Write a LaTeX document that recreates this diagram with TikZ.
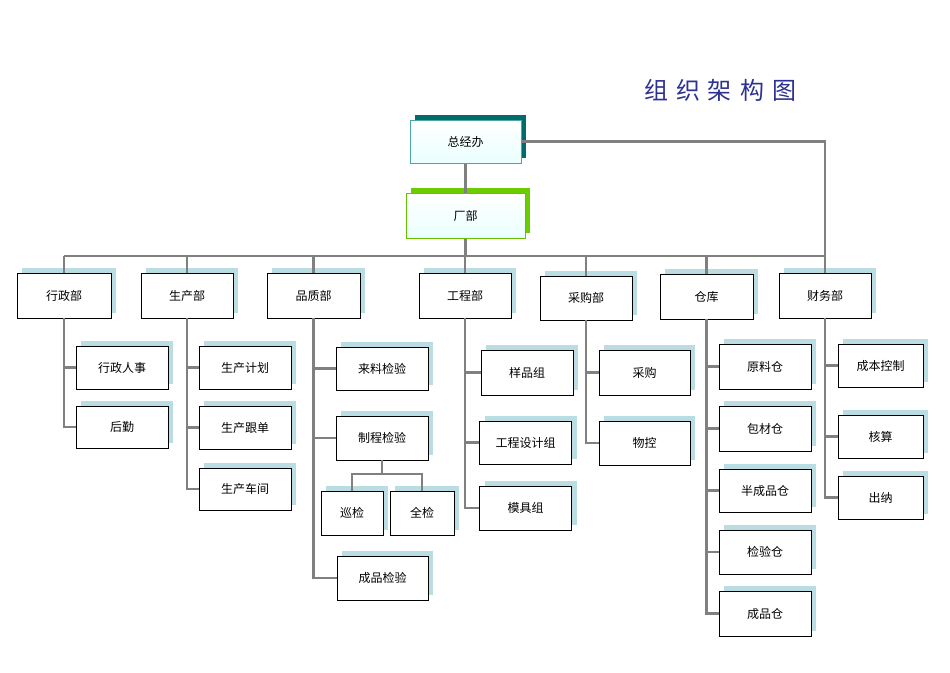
\documentclass[tikz,border=0pt]{standalone}
\usepackage{fontspec}
\setmainfont{Noto Sans CJK SC}
\usetikzlibrary{shadows}
\definecolor{ln}{HTML}{808080}
\definecolor{sh}{HTML}{B9DDE3}
\definecolor{tt}{HTML}{2E3192}
\begin{document}
\begin{tikzpicture}[x=1pt,y=-1pt,
  box/.style={draw=black,line width=0.8pt,fill=white,minimum width=92pt,minimum height=43pt,inner sep=1pt,font=\fontsize{12}{14}\selectfont,
    copy shadow={shadow xshift=5pt,shadow yshift=5pt,fill=sh,draw=none}},
  conn/.style={ln,line width=2.5pt}]
\useasboundingbox (0,0) rectangle (950,672);
\node[text=tt,font=\fontsize{24}{28}\selectfont] (title) at (720,90) {组\,\,织\,\,架\,\,构\,\,图};
\node[box,draw={teal!70},line width=1pt,minimum width=111pt,minimum height=43pt,top color=white,bottom color=cyan!8,
  copy shadow={shadow xshift=5pt,shadow yshift=5pt,fill=teal!85!black,draw=none}] (zjb) at (465.5,141.5) {总经办};
\node[box,draw={green!60!black!60!yellow},line width=1pt,minimum width=119pt,minimum height=45pt,top color=white,bottom color=cyan!8,
  copy shadow={shadow xshift=5pt,shadow yshift=5pt,fill=lime!70!green!80!black,draw=none}] (cb) at (465.5,215.5) {厂部};
% top level
\node[box,minimum width=94pt,minimum height=45pt] (xz) at (64,295.5) {行政部};
\node[box,minimum height=45pt] (sc) at (187,295.5) {生产部};
\node[box,minimum width=93pt,minimum height=45pt] (pz) at (313.5,295.5) {品质部};
\node[box,minimum height=45pt] (gc) at (465,295.5) {工程部};
\node[box,minimum height=44pt] (cg) at (586,298) {采购部};
\node[box,minimum width=93pt,minimum height=45pt] (ck) at (706.5,296.5) {仓库};
\node[box,minimum height=45pt] (cw) at (825,295.5) {财务部};
% children
\node[box] (a1) at (122,367.5) {行政人事};
\node[box,minimum height=42pt] (a2) at (122,427) {后勤};
\node[box] (b1) at (245,367.5) {生产计划};
\node[box] (b2) at (245,427.5) {生产跟单};
\node[box,minimum height=42pt] (b3) at (245,489) {生产车间};
\node[box] (c1) at (382,368.5) {来料检验};
\node[box,minimum height=44pt] (c2) at (382,438) {制程检验};
\node[box,minimum width=62pt,minimum height=44pt] (c3) at (352,513) {巡检};
\node[box,minimum width=64pt,minimum height=44pt] (c4) at (422,513) {全检};
\node[box,minimum width=91pt,minimum height=44pt] (c5) at (382.5,578) {成品检验};
\node[box,minimum height=45pt] (d1) at (527,372.5) {样品组};
\node[box,minimum height=43pt] (d2) at (525.5,442.5) {工程设计组};
\node[box,minimum height=44pt] (d3) at (525.5,508) {模具组};
\node[box,minimum width=91pt,minimum height=45pt] (e1) at (644.5,372.5) {采购};
\node[box,minimum width=91pt,minimum height=44pt] (e2) at (644.5,443) {物控};
\node[box,minimum height=45pt] (f1) at (765,366.5) {原料仓};
\node[box,minimum height=45pt] (f2) at (765,428.5) {包材仓};
\node[box,minimum height=43pt] (f3) at (765,490.5) {半成品仓};
\node[box,minimum height=44pt] (f4) at (765,552) {检验仓};
\node[box,minimum height=45pt] (f5) at (765,613.5) {成品仓};
\node[box,minimum width=85pt] (g1) at (880.5,365.5) {成本控制};
\node[box,minimum width=85pt] (g2) at (880.5,436.5) {核算};
\node[box,minimum width=85pt] (g3) at (880.5,497.5) {出纳};
\coordinate (bus) at (0,256);
\coordinate (split) at (0,474);
% connectors
\draw[conn] (zjb) -- (cb);
\draw[conn] (cb.south) -- (cb.south |- bus);
\draw[conn] (zjb.east) -| (cw.north);
\draw[conn] (xz.north |- bus) -- (cw.north |- bus);
\foreach \n in {xz,sc,pz,gc,cg,ck} \draw[conn] (\n.north) -- (\n.north |- bus);
\foreach \p/\c in {xz/a1,xz/a2,sc/b1,sc/b2,sc/b3,pz/c1,pz/c2,pz/c5,gc/d1,gc/d2,gc/d3,cg/e1,cg/e2,ck/f1,ck/f2,ck/f3,ck/f4,ck/f5,cw/g1,cw/g2,cw/g3}
  \draw[conn] (\p.south) |- (\c.west);
\draw[conn] (c2.south) -- (c2.south |- split);
\draw[conn] (c3.north) |- (c2.south |- split) -| (c4.north);
\end{tikzpicture}
\end{document}
